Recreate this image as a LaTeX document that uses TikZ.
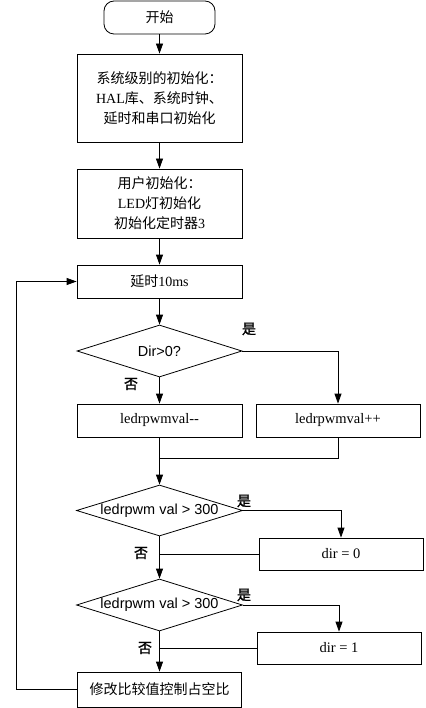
\documentclass[tikz,border=0pt]{standalone}
\usepackage{fontspec}
\setmainfont{Liberation Serif}
\setsansfont{Liberation Sans}
\newfontfamily\cjk{Noto Sans CJK SC}
\newfontfamily\cjkheavy[FakeBold=1.5]{Noto Sans CJK SC}
\usetikzlibrary{shapes.geometric,arrows.meta}
\newcommand*\lat[1]{{\rmfamily #1}}

\begin{document}
\begin{tikzpicture}[x=1pt,y=-1pt,line width=0.8pt,
    boxfont/.style={font=\fontsize{14pt}{20pt}\selectfont\cjk},
    latfont/.style={font=\fontsize{14.5pt}{16pt}\selectfont\rmfamily},
    stepbox/.style={draw,rectangle,boxfont,align=center,inner sep=2pt,minimum width=165pt,minimum height=33pt},
    decision/.style={draw,diamond,aspect=3.17,inner sep=0pt,minimum width=165pt,minimum height=52pt,font=\fontsize{14.5pt}{16pt}\selectfont\sffamily},
    answer/.style={font=\fontsize{14pt}{16pt}\selectfont\cjkheavy,inner sep=0pt},
    arr/.style={-{Triangle[length=10pt,width=7pt]}}]
    \useasboundingbox (0,0) rectangle (425,708);
    % main column
    \node[stepbox,rounded corners=10pt,minimum width=111pt] (start) at (159.5,17.5) {开始};
    \node[stepbox,minimum height=88pt] (sysinit) at (159.5,98) {系统级别的初始化：\\\lat{HAL}库、系统时钟、\\延时和串口初始化};
    \node[stepbox,minimum height=69pt] (userinit) at (159.5,203.5) {用户初始化：\\\lat{LED}灯初始化\\初始化定时器\lat{3}};
    \node[stepbox] (delay) at (159.5,281.5) {延时\lat{10ms}};
    \node[decision] (dir) at (159.5,351) {Dir>0?};
    \node[stepbox,latfont] (dec) at (159.5,420.5) {ledrpwmval-{}-};
    \node[stepbox,latfont,minimum width=164pt] (inc) at (338,420.5) {ledrpwmval++};
    \coordinate (merge) at (159.5,458);
    \node[decision,minimum width=166pt,minimum height=51pt] (cmpa) at (159.5,510.5) {ledrpwm val > 300};
    \node[stepbox,latfont,minimum width=164pt,minimum height=32pt] (setzero) at (341,554) {dir = 0};
    \node[decision,minimum width=166pt] (cmpb) at (159.5,605) {ledrpwm val > 300};
    \node[stepbox,latfont,minimum width=164pt,minimum height=32pt] (setone) at (339,648) {dir = 1};
    \node[stepbox,minimum width=164pt,minimum height=35pt] (duty) at (159.5,689.5) {修改比较值控制占空比};
    \coordinate (back) at (16,689.5);

    % yes / no labels
    \node[answer] (yesa) at (249,329) {是};
    \node[answer] (noa) at (131,384) {否};
    \node[answer] (yesb) at (244,501) {是};
    \node[answer] (nob) at (141,553) {否};
    \node[answer] (yesc) at (244,595) {是};
    \node[answer] (noc) at (145,648) {否};

    % connectors
    \draw[arr] (start) -- (sysinit);
    \draw[arr] (sysinit) -- (userinit);
    \draw[arr] (userinit) -- (delay);
    \draw[arr] (delay) -- (dir);
    \draw[arr] (dir) -- (dec);
    \draw[arr] (dir.east) -| (inc.north);
    \draw (dec.south) -- (merge);
    \draw (inc.south) |- (merge);
    \draw[arr] (merge) -- (cmpa.north);
    \draw[arr] (cmpa.east) -| (setzero.north);
    \draw[arr] (cmpa) -- (cmpb);
    \draw (setzero.west) -- (setzero.west -| cmpa.south);
    \draw[arr] (cmpb.east) -| (setone.north);
    \draw[arr] (cmpb) -- (duty);
    \draw (setone.west) -- (setone.west -| cmpb.south);
    \draw[arr] (duty.west) -- (back) |- (delay.west);
\end{tikzpicture}
\end{document}
